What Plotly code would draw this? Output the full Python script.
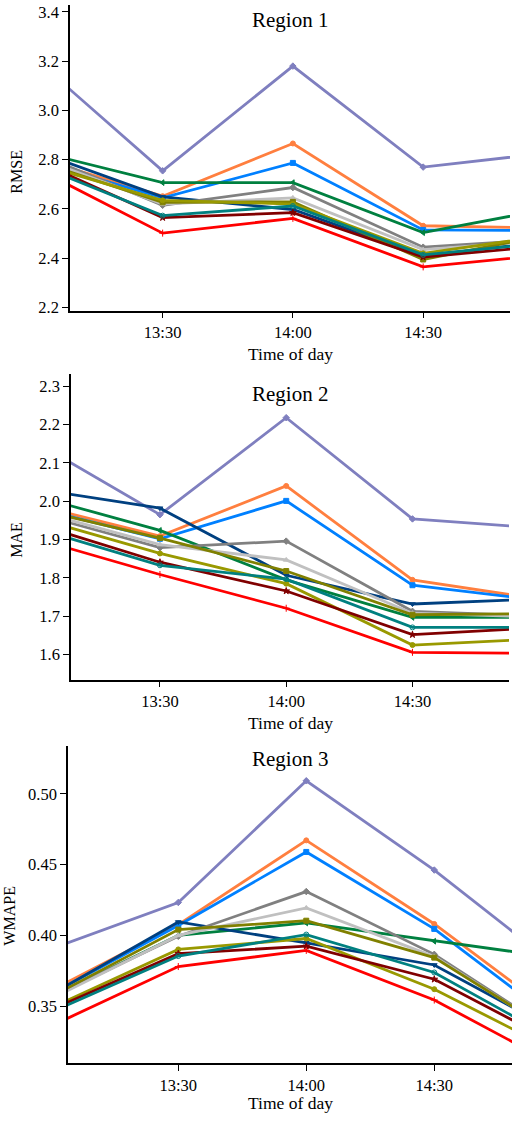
import plotly.graph_objects as go

# Time stamps of the forecast evaluations
times = ["2024-01-01 13:00", "2024-01-01 13:30", "2024-01-01 14:00",
         "2024-01-01 14:30", "2024-01-01 15:00"]
tick_vals = ["2024-01-01 13:30", "2024-01-01 14:00", "2024-01-01 14:30"]
tick_text = ["13:30", "14:00", "14:30"]

models = ["M1", "M2", "M3", "M4", "M5", "M6", "M7", "M8", "M9", "M10", "M11", "M12"]
colors = ["#7f7fbf", "#ff7f3f", "#0080ff", "#008040", "#004080", "#808080",
          "#c0c0c0", "#808000", "#999900", "#800000", "#008080", "#ff0000"]
symbols = ["diamond", "circle", "square", "triangle-left", "triangle-down", "diamond",
           "triangle-up", "square", "circle", "star", "circle-open", "cross-thin"]

# Region 1 - RMSE
rmse = {
    "M1":  [3.219, 2.755, 3.180, 2.770, 2.830],
    "M2":  [2.811, 2.652, 2.866, 2.532, 2.522],
    "M3":  [2.800, 2.645, 2.787, 2.515, 2.512],
    "M4":  [2.838, 2.707, 2.707, 2.504, 2.604],
    "M5":  [2.840, 2.649, 2.598, 2.410, 2.470],
    "M6":  [2.833, 2.615, 2.687, 2.445, 2.479],
    "M7":  [2.817, 2.620, 2.645, 2.435, 2.475],
    "M8":  [2.800, 2.627, 2.629, 2.395, 2.500],
    "M9":  [2.790, 2.635, 2.620, 2.420, 2.495],
    "M10": [2.804, 2.565, 2.585, 2.405, 2.453],
    "M11": [2.787, 2.573, 2.612, 2.414, 2.465],
    "M12": [2.773, 2.502, 2.562, 2.365, 2.417],
}

# Region 2 - MAE
mae = {
    "M1":  [2.157, 1.965, 2.218, 1.954, 1.930],
    "M2":  [1.991, 1.909, 2.040, 1.795, 1.745],
    "M3":  [1.984, 1.902, 2.001, 1.781, 1.742],
    "M4":  [2.015, 1.924, 1.795, 1.697, 1.697],
    "M5":  [2.033, 1.982, 1.807, 1.732, 1.745],
    "M6":  [1.970, 1.879, 1.896, 1.713, 1.701],
    "M7":  [1.976, 1.887, 1.847, 1.708, 1.698],
    "M8":  [1.981, 1.904, 1.818, 1.704, 1.707],
    "M9":  [1.958, 1.864, 1.785, 1.625, 1.641],
    "M10": [1.943, 1.841, 1.766, 1.652, 1.670],
    "M11": [1.931, 1.833, 1.797, 1.671, 1.671],
    "M12": [1.904, 1.809, 1.721, 1.606, 1.603],
}

# Region 3 - WMAPE
wmape = {
    "M1":  [0.3902, 0.4233, 0.5093, 0.4462, 0.3751],
    "M2":  [0.3607, 0.4076, 0.4672, 0.4081, 0.3404],
    "M3":  [0.3583, 0.4070, 0.4590, 0.4046, 0.3361],
    "M4":  [0.3559, 0.4001, 0.4088, 0.3959, 0.3837],
    "M5":  [0.3578, 0.4095, 0.3948, 0.3791, 0.3302],
    "M6":  [0.3560, 0.3994, 0.4310, 0.3866, 0.3280],
    "M7":  [0.3548, 0.4000, 0.4194, 0.3850, 0.3274],
    "M8":  [0.3564, 0.4041, 0.4104, 0.3843, 0.3278],
    "M9":  [0.3486, 0.3901, 0.3978, 0.3620, 0.3159],
    "M10": [0.3472, 0.3871, 0.3924, 0.3690, 0.3217],
    "M11": [0.3455, 0.3854, 0.4006, 0.3738, 0.3236],
    "M12": [0.3357, 0.3780, 0.3894, 0.3543, 0.3060],
}

W, H = 512, 1124
FONT = "Liberation Serif"

def px(x):
    return x / W

def py(y):
    return 1 - y / H

panels = [
    # data, axis suffix, x px span, y px span, x range, y range, y ticks,
    # y title (x, y centre), panel title y, x title y
    (rmse, "", (70, 510), (3, 311), ["2024-01-01 13:08:40", "2024-01-01 14:50:00"],
     [2.188, 3.428], [2.2, 2.4, 2.6, 2.8, 3.0, 3.2, 3.4], ("RMSE", 17, 171), ("Region 1", 18), 355),
    (mae, "2", (71, 509), (375, 683), ["2024-01-01 13:08:52", "2024-01-01 14:52:56"],
     [1.535, 2.332], [1.6, 1.7, 1.8, 1.9, 2.0, 2.1, 2.2, 2.3], ("MAE", 17, 542), ("Region 2", 395), 727),
    (wmape, "3", (68, 512), (750, 1070), ["2024-01-01 13:04:09", "2024-01-01 14:48:13"],
     [0.3095, 0.5339], [0.35, 0.40, 0.45, 0.50], ("WMAPE", 10, 921), ("Region 3", 763), 1110),
]

fig = go.Figure()
annotations = []
layout = {}

for data, sfx, (x0, x1), (y0, y1), xr, yr, yt, ytl, ttl, xty in panels:
    for name, col, sym in zip(models, colors, symbols):
        fig.add_trace(go.Scatter(
            x=times, y=data[name], mode="lines+markers", name=name,
            line=dict(color=col, width=2.8),
            marker=dict(symbol=sym, size=5, color=col, line=dict(color=col, width=1)),
            xaxis="x" + sfx, yaxis="y" + sfx, showlegend=False,
        ))
    layout["xaxis" + sfx] = dict(
        domain=[px(x0), px(x1)], range=xr, type="date", anchor="y" + sfx,
        tickvals=tick_vals, ticktext=tick_text, showgrid=False, zeroline=False,
        showline=True, linecolor="black", linewidth=1.5, ticks="outside",
        ticklen=6, tickwidth=1.2, tickcolor="black",
        tickfont=dict(family=FONT, size=16.5, color="black"),
    )
    layout["yaxis" + sfx] = dict(
        domain=[py(y1), py(y0)], range=yr, anchor="x" + sfx,
        tickvals=yt, tickformat=".2f" if sfx == "3" else ".1f",
        showgrid=False, zeroline=False,
        showline=True, linecolor="black", linewidth=1.5, ticks="outside",
        ticklen=6, tickwidth=1.2, tickcolor="black",
        tickfont=dict(family=FONT, size=16.5, color="black"),
    )
    xc = (x0 + x1) / 2
    annotations.append(dict(text=ttl[0], x=px(xc), y=py(ttl[1]), xref="paper", yref="paper",
                            xanchor="center", yanchor="middle", showarrow=False,
                            font=dict(family=FONT, size=21, color="black")))
    annotations.append(dict(text="Time of day", x=px(xc), y=py(xty), xref="paper",
                            yref="paper", xanchor="center", yanchor="middle", showarrow=False,
                            font=dict(family=FONT, size=17.5, color="black")))
    annotations.append(dict(text=ytl[0], x=px(ytl[1]), y=py(ytl[2]),
                            xref="paper", yref="paper", xanchor="center", yanchor="middle",
                            showarrow=False, textangle=-90,
                            font=dict(family=FONT, size=16, color="black")))

fig.update_layout(
    width=W, height=H, autosize=False,
    margin=dict(l=0, r=0, t=0, b=0),
    paper_bgcolor="white", plot_bgcolor="white",
    annotations=annotations,
    **layout,
)

fig.write_html("out.html")
